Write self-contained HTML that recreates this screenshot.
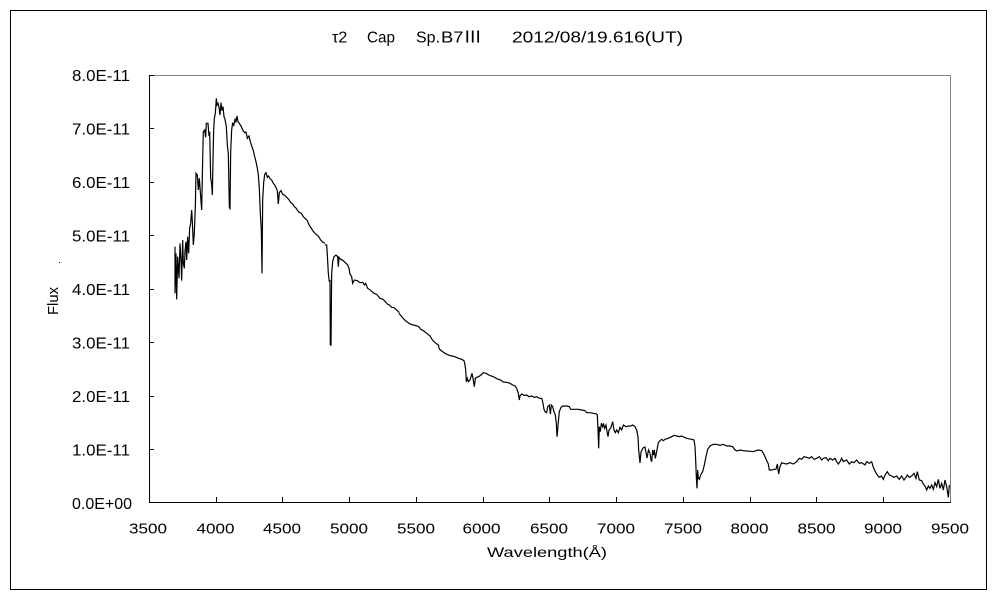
<!DOCTYPE html>
<html>
<head>
<meta charset="utf-8">
<style>
  html,body{margin:0;padding:0;background:#fff;}
  svg{display:block;}
  text{font-family:"Liberation Sans","Noto Sans CJK JP",sans-serif;fill:#000;}
</style>
</head>
<body>
<svg width="1000" height="600" viewBox="0 0 1000 600" xmlns="http://www.w3.org/2000/svg">
  <rect x="0" y="0" width="1000" height="600" fill="#fff"/>
  <!-- outer border -->
  <rect x="10.5" y="10.5" width="976" height="579" fill="none" stroke="#000" stroke-width="1"/>

  <!-- title -->
  <g font-size="16">
    <text x="332" y="42.5">τ2</text>
    <text x="367" y="42.5" textLength="28" lengthAdjust="spacingAndGlyphs">Cap</text>
    <text x="416" y="42.5">Sp.</text>
    <text x="441" y="42.5" textLength="41" lengthAdjust="spacingAndGlyphs">B7Ⅲ</text>
    <text x="512" y="42.5" textLength="171" lengthAdjust="spacingAndGlyphs">2012/08/19.616(UT)</text>
  </g>

  <!-- plot frame -->
  <line x1="149.5" y1="75.5" x2="950.5" y2="75.5" stroke="#808080" stroke-width="1"/>
  <line x1="950.5" y1="75.5" x2="950.5" y2="502.5" stroke="#808080" stroke-width="1"/>
  <line x1="149.5" y1="75" x2="149.5" y2="503" stroke="#000" stroke-width="1"/>
  <line x1="149" y1="502.5" x2="951" y2="502.5" stroke="#000" stroke-width="1"/>

  <!-- y ticks -->
  <g stroke="#000" stroke-width="1">
    <line x1="149" y1="75.5" x2="154" y2="75.5"/>
    <line x1="149" y1="128.5" x2="154" y2="128.5"/>
    <line x1="149" y1="182.5" x2="154" y2="182.5"/>
    <line x1="149" y1="235.5" x2="154" y2="235.5"/>
    <line x1="149" y1="289.5" x2="154" y2="289.5"/>
    <line x1="149" y1="342.5" x2="154" y2="342.5"/>
    <line x1="149" y1="396.5" x2="154" y2="396.5"/>
    <line x1="149" y1="449.5" x2="154" y2="449.5"/>
  </g>
  <!-- x ticks -->
  <g stroke="#000" stroke-width="1">
    <line x1="216.5" y1="497" x2="216.5" y2="503"/>
    <line x1="282.5" y1="497" x2="282.5" y2="503"/>
    <line x1="349.5" y1="497" x2="349.5" y2="503"/>
    <line x1="416.5" y1="497" x2="416.5" y2="503"/>
    <line x1="483.5" y1="497" x2="483.5" y2="503"/>
    <line x1="549.5" y1="497" x2="549.5" y2="503"/>
    <line x1="616.5" y1="497" x2="616.5" y2="503"/>
    <line x1="683.5" y1="497" x2="683.5" y2="503"/>
    <line x1="750.5" y1="497" x2="750.5" y2="503"/>
    <line x1="816.5" y1="497" x2="816.5" y2="503"/>
    <line x1="883.5" y1="497" x2="883.5" y2="503"/>
  </g>

  <!-- y labels -->
  <g font-size="16" text-anchor="end">
    <text x="130" y="81" textLength="58" lengthAdjust="spacingAndGlyphs">8.0E-11</text>
    <text x="130" y="134.5" textLength="58" lengthAdjust="spacingAndGlyphs">7.0E-11</text>
    <text x="130" y="188" textLength="58" lengthAdjust="spacingAndGlyphs">6.0E-11</text>
    <text x="130" y="241.5" textLength="58" lengthAdjust="spacingAndGlyphs">5.0E-11</text>
    <text x="130" y="295" textLength="58" lengthAdjust="spacingAndGlyphs">4.0E-11</text>
    <text x="130" y="348.5" textLength="58" lengthAdjust="spacingAndGlyphs">3.0E-11</text>
    <text x="130" y="402" textLength="58" lengthAdjust="spacingAndGlyphs">2.0E-11</text>
    <text x="130" y="455.5" textLength="58" lengthAdjust="spacingAndGlyphs">1.0E-11</text>
    <text x="132" y="509" textLength="60" lengthAdjust="spacingAndGlyphs">0.0E+00</text>
  </g>

  <!-- x labels -->
  <g font-size="15" text-anchor="middle">
    <text x="148" y="533.5" textLength="38" lengthAdjust="spacingAndGlyphs">3500</text>
    <text x="215.5" y="533.5" textLength="38" lengthAdjust="spacingAndGlyphs">4000</text>
    <text x="282" y="533.5" textLength="38" lengthAdjust="spacingAndGlyphs">4500</text>
    <text x="349" y="533.5" textLength="38" lengthAdjust="spacingAndGlyphs">5000</text>
    <text x="416" y="533.5" textLength="38" lengthAdjust="spacingAndGlyphs">5500</text>
    <text x="481.5" y="533.5" textLength="38" lengthAdjust="spacingAndGlyphs">6000</text>
    <text x="549" y="533.5" textLength="38" lengthAdjust="spacingAndGlyphs">6500</text>
    <text x="616" y="533.5" textLength="38" lengthAdjust="spacingAndGlyphs">7000</text>
    <text x="683" y="533.5" textLength="38" lengthAdjust="spacingAndGlyphs">7500</text>
    <text x="749.5" y="533.5" textLength="38" lengthAdjust="spacingAndGlyphs">8000</text>
    <text x="816.5" y="533.5" textLength="38" lengthAdjust="spacingAndGlyphs">8500</text>
    <text x="883" y="533.5" textLength="38" lengthAdjust="spacingAndGlyphs">9000</text>
    <text x="950" y="533.5" textLength="38" lengthAdjust="spacingAndGlyphs">9500</text>
  </g>

  <!-- axis titles -->
  <text x="487" y="557" font-size="14" textLength="120" lengthAdjust="spacingAndGlyphs">Wavelength(Å)</text>
  <text x="58" y="301" font-size="15" text-anchor="middle" transform="rotate(-90 58 301)" textLength="28" lengthAdjust="spacingAndGlyphs">Flux</text>
  <rect x="59" y="262" width="1" height="1" fill="#000"/>

  <!-- spectrum -->
  <g fill="none" stroke="#000" stroke-width="1.2" stroke-linejoin="miter">
    <g transform="translate(140,60) scale(0.333333)">
      <polyline vector-effect="non-scaling-stroke" points="105,560 105,700 108,580 110,718 113,590 117,655 120,550 123,600 125,662 128,540 130,610 133,625 135,575 138,545 140,600 143,530 146,580 149,505 152,490 155,450 157,485 160,555 163,520 166,440 168,340 172,345 175,390 178,355 182,410 185,450 188,300 190,215 194,210 197,232 199,190 204,190 207,228 209,215 212,355 215,372 217,405 219,300 221,210 223,175 226,160 229,115 231,135 234,130 237,142 240,165 243,128 246,152 249,140 252,170 255,178 259,200 262,255 265,282 268,440 270,448 272,275 275,210 278,188 281,198 285,178 288,185 291,168 294,185 298,190 304,200 309,212 314,218 318,216 322,235 327,228 331,245 335,258 340,272 344,290 348,305 352,325 355,345 358,385 361,460 364,510 366,640 368,420 371,368 374,343 378,338 382,352 386,348 390,356 395,360 400,370 404,375 408,383 412,392 415,432 418,398 423,392 428,403 434,406 440,412 446,418 452,427 458,432 463,440 468,444 473,452 478,457 484,460 490,470 496,476 502,482 507,494 512,502 517,510 523,518 530,524 536,530 542,540 548,546 555,550"/>
    </g>
    <g transform="translate(300,230) scale(0.333333)">
      <polyline vector-effect="non-scaling-stroke" points="75,45 80,45 82,75 85,130 88,155 90,150 91,345 93,345 95,130 98,95 102,80 108,75 113,80 115,110 117,82 122,88 130,92 138,100 143,105 147,115 150,132 155,140 158,160 163,150 172,152 180,158 188,157 193,165 197,160 203,175 208,178 213,182 222,190 230,193 240,205 248,207 256,215 262,222 268,225 275,232 282,233 290,240 298,248"/>
    </g>
    <g transform="translate(380,250) scale(0.333333)">
      <polyline vector-effect="non-scaling-stroke" points="57,190 65,200 72,208 80,215 90,222 100,225 112,228 118,232 122,238 130,242 140,250 150,258 156,268 162,275 168,280 175,285 178,297 185,303 195,310 205,315 215,318 225,320 235,325 245,328 252,332 255,345 257,358 259,395 262,385 265,395 270,390 273,380 276,370 279,385 283,410 286,385 290,382 296,380 303,375 310,368 318,370 325,374 333,378 340,380 348,385 355,388 362,390 370,396 380,397 390,400 398,405 405,408 410,415 415,430 418,450 420,438 425,432 432,436 440,435 447,440 455,438 463,442 470,440 478,445 485,445 488,455 492,478 495,485 500,488 503,470 508,465 511,492 514,465 518,470 522,485 526,495 529,520 531,560 533,540 535,515 538,485 543,472 548,468 560,468 568,470 572,478 580,478 595,478 605,480 615,482 620,488 630,488 640,490 650,492 652,495 654,540 656,595 658,530 661,545 664,520 668,530 670,520 674,535 678,525 681,545 684,560 687,540 692,535 695,525 698,515 702,540 706,548 710,540 715,548 720,532 725,540 730,525 738,530 745,528 752,528 758,525 765,530 770,540 774,560 776,600"/>
    </g>
    <polyline points="638.7,450 640,463 641,452 643,448 645,447 647,458 648.5,450 650,453"/>
    <g transform="translate(650,390) scale(0.333333)">
      <polyline vector-effect="non-scaling-stroke" points="0,190 3,210 5,215 8,180 10,195 13,180 16,205 20,185 25,158 30,152 35,148 40,152 45,148 55,145 65,140 72,136 80,138 88,140 95,138 105,143 115,146 125,148 132,150 135,170 137,210 139,260 141,295 143,240 145,265 148,268 152,255 158,245 163,225 168,200 173,178 180,168 190,163 200,163 210,166 220,163 230,168 240,168 248,170 255,180 262,183 270,180 280,182 290,183 300,184 310,185 318,182 325,180 335,182 340,190 345,200 350,212 355,222 358,240 365,240 372,238 378,238 382,222 386,252 390,230 395,218 400,220 410,222 420,218 430,222 440,215 448,205 455,208 462,200 470,202 478,205 485,200 492,208 500,205 508,200 515,210 520,205 528,203 535,212 540,205 548,210 555,205 560,215 565,222 570,215 575,205 580,215 585,212 590,210 598,222 605,215 612,218 620,210 628,220 635,218 645,225 650,215 658,220 665,215 670,232 676,245 682,255 688,262 694,258 700,268 705,255 712,245 718,255 725,258 732,262 740,258 748,268 755,258 762,270 768,262 772,255 778,262 785,258 792,250 798,265 802,245 808,270 815,272 820,282 826,290 830,300 835,288 840,295 845,285 850,298 855,278 860,290 865,268 870,295 875,280 880,300 885,270 890,290 895,322 898,285"/>
    </g>
  </g>
</svg>
</body>
</html>
